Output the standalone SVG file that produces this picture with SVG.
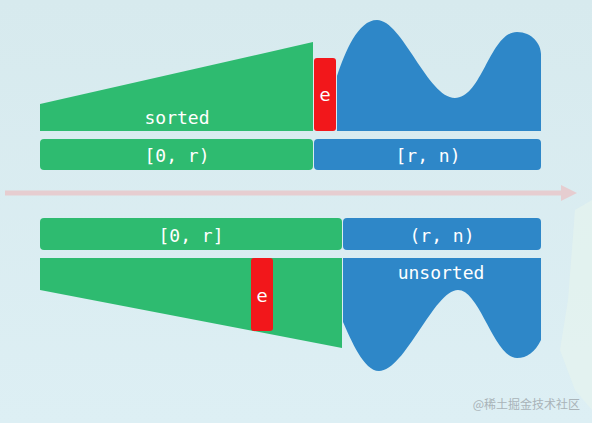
<svg xmlns="http://www.w3.org/2000/svg" width="592" height="423" viewBox="0 0 592 423">
<defs>
<linearGradient id="bg" x1="0" y1="0" x2="0" y2="1">
<stop offset="0" stop-color="#d7eaee"/>
<stop offset="1" stop-color="#ddeff4"/>
</linearGradient>
<style>
.g{fill:#2ebb70}
.b{fill:#2e87c8}
.r{fill:#f2171b}
.t{font-family:"DejaVu Sans Mono",monospace;font-size:18px;fill:#fff;text-anchor:middle}
.e{font-family:"DejaVu Sans","Open Sans",sans-serif;font-size:18px;fill:#fff;text-anchor:middle}
</style>
</defs>
<rect width="592" height="423" fill="url(#bg)"/>
<polygon points="575,210 592,200 592,410 575,390 560,350 568,300" fill="#e6f3ee" opacity="0.7"/>
<g id="connectors">
<line x1="5" y1="193" x2="564" y2="193" stroke="#e6cdd0" stroke-width="5"/>
<polygon points="561,185 577,193 561,201" fill="#e6cdd0"/>
</g>
<g id="top-sorted">
<polygon class="g" points="40,104 313,42 313,131 40,131"/>
<text class="t" x="177" y="124">sorted</text>
</g>
<g id="top-e">
<rect class="r" x="314" y="58" width="22" height="73" rx="3"/>
<text class="e" x="325" y="101">e</text>
</g>
<g id="top-unsorted">
<path class="b" d="M337,131 L337,76 C345,52 358,20 377,20 C402,20 428,98 455,98 C482,98 490,32 517,32 C532,32 541,44 541,54 L541,131 Z"/>
</g>
<g id="top-bar-left">
<rect class="g" x="40" y="139" width="273" height="31" rx="4"/>
<text class="t" x="177" y="162">[0, r)</text>
</g>
<g id="top-bar-right">
<rect class="b" x="314" y="139" width="227" height="31" rx="4"/>
<text class="t" x="428" y="162">[r, n)</text>
</g>
<g id="bottom-bar-left">
<rect class="g" x="40" y="218" width="302" height="32" rx="4"/>
<text class="t" x="191" y="242">[0, r]</text>
</g>
<g id="bottom-bar-right">
<rect class="b" x="343" y="218" width="198" height="32" rx="4"/>
<text class="t" x="442" y="242">(r, n)</text>
</g>
<g id="bottom-sorted">
<polygon class="g" points="40,258 342,258 342,348 40,290"/>
</g>
<g id="bottom-e">
<rect class="r" x="251" y="258" width="22" height="73" rx="3"/>
<text class="e" x="262" y="302">e</text>
</g>
<g id="bottom-unsorted">
<path class="b" d="M343,258 L541,258 L541,340 C535,352 527,358 517,358 C494,358 480,290 458,290 C434,290 405,371 379,371 C364,371 351,340 343,322 Z"/>
<text class="t" x="441" y="279">unsorted</text>
</g>
<text x="580" y="409" font-family="'Noto Sans CJK SC',sans-serif" font-size="12" fill="#a9b3b8" text-anchor="end">@稀土掘金技术社区</text>
</svg>
